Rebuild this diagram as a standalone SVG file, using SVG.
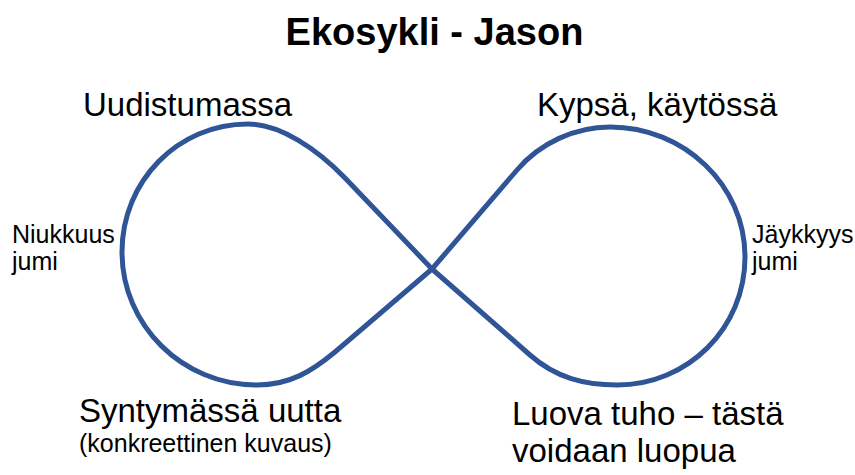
<svg xmlns="http://www.w3.org/2000/svg" width="855" height="475" viewBox="0 0 855 475">
<style>
.t{font-family:"Liberation Sans",Arial,sans-serif;fill:#000}
.big{font-size:33px}
.mid{font-size:25px}
.title{font-size:38px;font-weight:bold}
.loop{fill:none;stroke:#2F5597;stroke-width:5;stroke-linejoin:round}
</style>
<rect width="855" height="475" fill="#fff"/>
<g id="title"><text class="t title" x="434.5" y="45" text-anchor="middle">Ekosykli - Jason</text></g>
<g id="connectors">
<path class="loop" d="M432,269 L345,178 C317,149 280,124 248,124 C178,124 122,181 122,252 C122,325 182,385 257,385 C290,385 312,371 335,352 L432,269 L530,355 C556,378 585,385 617,385 C688,385 745,328 745,257 C745,185 684,127 610,127 C575,127 540,143 517,170 Z"/>
</g>
<g id="uudistumassa"><text class="t big" x="83" y="116">Uudistumassa</text></g>
<g id="kypsa"><text class="t big" x="537" y="116">Kypsä, käytössä</text></g>
<g id="niukkuus"><text class="t mid" x="12" y="243">Niukkuus</text><text class="t mid" x="12" y="270">jumi</text></g>
<g id="jaykkyys"><text class="t mid" x="752" y="243">Jäykkyys</text><text class="t mid" x="752" y="270">jumi</text></g>
<g id="syntymassa"><text class="t big" x="79" y="422">Syntymässä uutta</text><text class="t mid" x="79" y="452">(konkreettinen kuvaus)</text></g>
<g id="luova"><text class="t big" x="512" y="425">Luova tuho – tästä</text><text class="t big" x="512" y="462">voidaan luopua</text></g>
</svg>
